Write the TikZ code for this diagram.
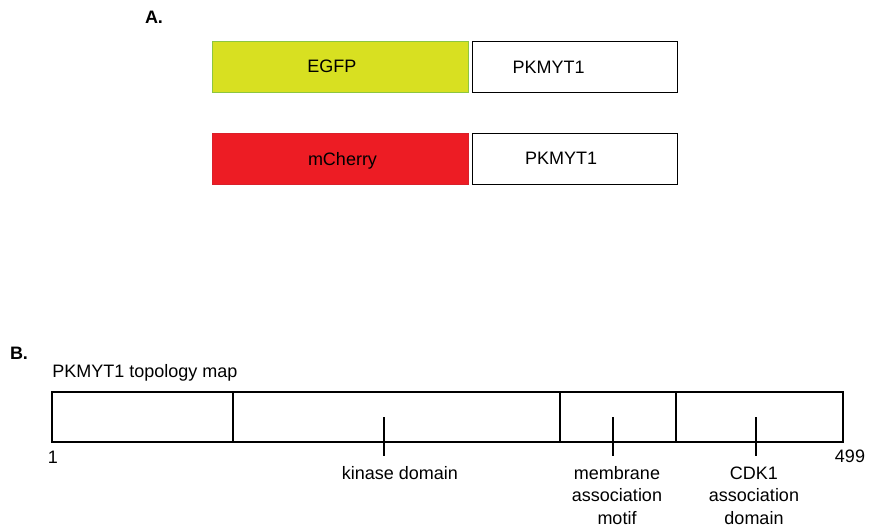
\documentclass[tikz,border=0pt]{standalone}
\usepackage{fontspec}
\setmainfont{Liberation Sans}
\definecolor{egfp}{HTML}{D8E021}
\definecolor{egfpline}{HTML}{8DC63F}
\definecolor{cherry}{HTML}{ED1C24}
\definecolor{cherryline}{HTML}{D9202A}
\begin{document}
\begin{tikzpicture}[x=1pt,y=-1pt,
  every node/.style={inner sep=0pt, outer sep=0pt},
  lbl/.style={font=\fontsize{18}{22.5}\selectfont, align=center},
  panel/.style={font=\bfseries\fontsize{18}{22}\selectfont},
  pbox/.style={draw=black, line width=1.6pt, fill=white, anchor=north west, minimum height=51pt},
  gbox/.style={draw=egfpline, line width=1.6pt, fill=egfp, anchor=north west, minimum height=51pt},
  rbox/.style={draw=cherryline, line width=0.8pt, fill=cherry, anchor=north west, minimum height=51pt},
  seg/.style={draw=black, line width=1.6pt, anchor=north west, minimum height=50pt},
  tick/.style={line width=1.4pt}]
\useasboundingbox (0,0) rectangle (879,527);

% Panel A
\node[panel, anchor=base west] (A) at (145,23.3) {A.};
\node[gbox, minimum width=256pt] (egfp) at (212.5,41.5) {};
\node[pbox, minimum width=205pt] (p1) at (472.5,41.5) {};
\node[lbl, anchor=base west] (egfpt) at (307.3,72.8) {EGFP};
\node[lbl, anchor=base west] (p1t) at (512.7,73.3) {PKMYT1};

\node[rbox, minimum width=256pt] (mch) at (212.5,133.3) {};
\node[pbox, minimum width=205pt] (p2) at (472.5,133.3) {};
\node[lbl, anchor=base west] (mcht) at (308,165) {mCherry};
\node[lbl, anchor=base west] (p2t) at (525,164.5) {PKMYT1};

% Panel B
\node[panel, anchor=base west] (B) at (10,359) {B.};
\node[lbl, anchor=base west] (title) at (52.3,377.5) {PKMYT1 topology map};

\node[seg, minimum width=181pt] (s1) at (52,392) {};
\node[seg, minimum width=327pt] (s2) at (233,392) {};
\node[seg, minimum width=116pt] (s3) at (560,392) {};
\node[seg, minimum width=167pt] (s4) at (676,392) {};

\coordinate (k1) at (384,417); \coordinate (k2) at (384,456);
\coordinate (m1) at (613,417); \coordinate (m2) at (613,456);
\coordinate (c1) at (756,417); \coordinate (c2) at (756,456);
\draw[tick] (k1) -- (k2);
\draw[tick] (m1) -- (m2);
\draw[tick] (c1) -- (c2);

\node[lbl, anchor=base] (one) at (52.8,463) {1};
\node[lbl, anchor=base] (end) at (850,462) {499};

\node[lbl, anchor=base] (kin) at (400,479) {kinase domain};
\node[lbl, anchor=base] (mem) at (617,524) {membrane\\association\\motif};
\node[lbl, anchor=base] (cdk) at (754,524) {CDK1\\association\\domain};
\end{tikzpicture}
\end{document}
